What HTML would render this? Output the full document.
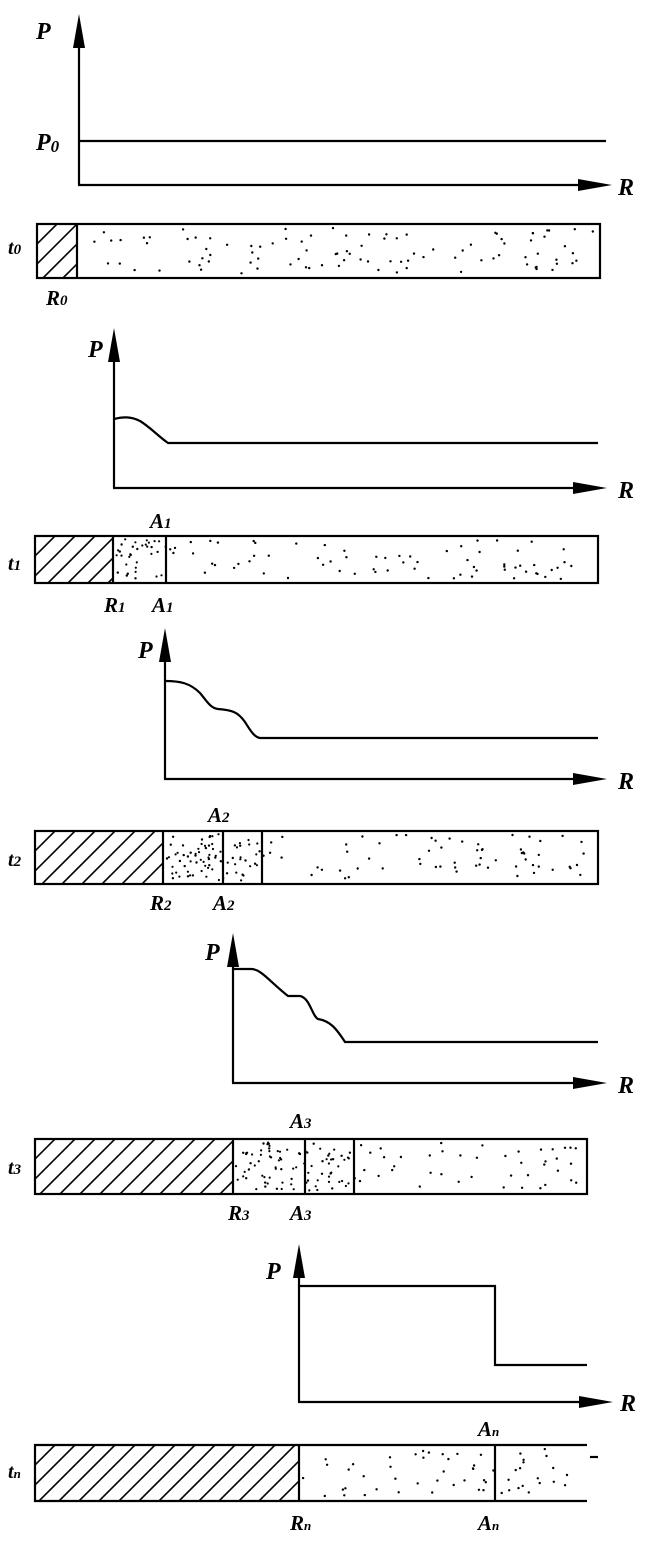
<!DOCTYPE html>
<html><head><meta charset="utf-8"><style>
html,body{margin:0;padding:0;background:#fff}
svg{display:block}
text{font-family:"Liberation Serif",serif;font-weight:bold;font-style:italic;fill:#000}
</style></head><body>
<svg id="s" width="666" height="1541" viewBox="0 0 666 1541" xmlns="http://www.w3.org/2000/svg">
<g stroke="#000" stroke-width="2.2" fill="none" id="g">
<line x1="79" y1="40" x2="79" y2="185"/><line x1="78" y1="185" x2="590" y2="185"/>
<line x1="79" y1="141" x2="606" y2="141"/>
<line x1="114" y1="352" x2="114" y2="488"/><line x1="113" y1="488" x2="585" y2="488"/>
<path d="M114 419 C122 417 130 416 140 421 C150 427 158 436 168 443 L598 443"/>
<line x1="165" y1="652" x2="165" y2="779"/><line x1="164" y1="779" x2="585" y2="779"/>
<path d="M165 681 C180 681 190 683 200 693 C206 700 210 708 218 709 C232 710 238 712 245 722 C250 730 254 737 260 738 L598 738"/>
<line x1="233" y1="957" x2="233" y2="1083"/><line x1="232" y1="1083" x2="585" y2="1083"/>
<path d="M233 969 L252 969 C262 970 270 982 288 996 L300 996 C310 998 312 1016 318 1019 C330 1021 336 1028 345 1042 L598 1042"/>
<line x1="299" y1="1268" x2="299" y2="1402"/><line x1="298" y1="1402" x2="585" y2="1402"/>
<path d="M299 1286 L495 1286 L495 1365 L587 1365"/>
<line x1="590" y1="1457" x2="598" y2="1457"/>
</g>
<g id="bars"></g>
<g fill="#000">
<polygon points="79,14 73,48 85,48"/><polygon points="612,185 578,179 578,191"/>
<polygon points="114,328 108,362 120,362"/><polygon points="607,488 573,482 573,494"/>
<polygon points="165,628 159,662 171,662"/><polygon points="607,779 573,773 573,785"/>
<polygon points="233,933 227,967 239,967"/><polygon points="607,1083 573,1077 573,1089"/>
<polygon points="299,1244 293,1278 305,1278"/><polygon points="613,1402 579,1396 579,1408"/>
</g>
<g font-size="24">
<text x="36" y="39">P</text><text x="36" y="150">P<tspan font-size="17" dy="2">0</tspan></text>
<text x="618" y="195">R</text>
<text x="8" y="254" font-size="20">t<tspan font-size="15">0</tspan></text>
<text x="46" y="305" font-size="21">R<tspan font-size="15">0</tspan></text>

<text x="88" y="357">P</text><text x="618" y="498">R</text>
<text x="150" y="528" font-size="21">A<tspan font-size="15">1</tspan></text>
<text x="8" y="570" font-size="20">t<tspan font-size="15">1</tspan></text>
<text x="104" y="612" font-size="21">R<tspan font-size="15">1</tspan></text>
<text x="152" y="612" font-size="21">A<tspan font-size="15">1</tspan></text>

<text x="138" y="658">P</text><text x="618" y="789">R</text>
<text x="208" y="822" font-size="21">A<tspan font-size="15">2</tspan></text>
<text x="8" y="866" font-size="20">t<tspan font-size="15">2</tspan></text>
<text x="150" y="910" font-size="21">R<tspan font-size="15">2</tspan></text>
<text x="213" y="910" font-size="21">A<tspan font-size="15">2</tspan></text>

<text x="205" y="960">P</text><text x="618" y="1093">R</text>
<text x="290" y="1128" font-size="21">A<tspan font-size="15">3</tspan></text>
<text x="8" y="1174" font-size="20">t<tspan font-size="15">3</tspan></text>
<text x="228" y="1220" font-size="21">R<tspan font-size="15">3</tspan></text>
<text x="290" y="1220" font-size="21">A<tspan font-size="15">3</tspan></text>

<text x="266" y="1279">P</text><text x="620" y="1411">R</text>
<text x="478" y="1436" font-size="21">A<tspan font-size="13">n</tspan></text>
<text x="8" y="1478" font-size="20">t<tspan font-size="13">n</tspan></text>
<text x="290" y="1530" font-size="21">R<tspan font-size="13">n</tspan></text>
<text x="478" y="1530" font-size="21">A<tspan font-size="13">n</tspan></text>
</g>
</svg>
<script>
(function(){
var NS="http://www.w3.org/2000/svg",b=document.getElementById("bars");
var seed=7;function r(){seed=(seed*16807)%2147483647;return seed/2147483647;}
function el(n,a){var e=document.createElementNS(NS,n);for(var k in a)e.setAttribute(k,a[k]);b.appendChild(e);return e;}
var bars=[
 {y:224,h:54,x0:37,x1:600,hx:77,div:[],dense:[],open:false},
 {y:536,h:47,x0:35,x1:598,hx:113,div:[166],dense:[[113,166]],open:false},
 {y:831,h:53,x0:35,x1:598,hx:163,div:[223,262],dense:[[163,262]],open:false},
 {y:1139,h:55,x0:35,x1:587,hx:233,div:[305,354],dense:[[233,354]],open:false},
 {y:1445,h:56,x0:35,x1:587,hx:299,div:[495],dense:[],open:true}
];
bars.forEach(function(B,i){
 var cid="c"+i;
 var cp=document.createElementNS(NS,"clipPath");cp.setAttribute("id",cid);
 var rr=document.createElementNS(NS,"rect");rr.setAttribute("x",B.x0);rr.setAttribute("y",B.y);rr.setAttribute("width",B.hx-B.x0);rr.setAttribute("height",B.h);
 cp.appendChild(rr);b.appendChild(cp);
 var g=el("g",{"clip-path":"url(#"+cid+")",stroke:"#000","stroke-width":"1.6"});
 for(var x=B.x0-B.h;x<B.hx+B.h;x+=20){var l=document.createElementNS(NS,"line");
  l.setAttribute("x1",x);l.setAttribute("y1",B.y+B.h);l.setAttribute("x2",x+B.h);l.setAttribute("y2",B.y);g.appendChild(l);}
 var area=(B.x1-B.hx)*B.h;
 for(var k=0;k<area/200;k++){var x=B.hx+4+r()*(B.x1-B.hx-8),y=B.y+4+r()*(B.h-8);
  var dense=B.dense.some(function(d){return x>d[0]&&x<d[1];});
  if(!dense&&r()<0.3)continue;
  el("circle",{cx:x.toFixed(1),cy:y.toFixed(1),r:"1.2",fill:"#000"});}
 B.dense.forEach(function(d){for(var k=0;k<(d[1]-d[0])*B.h/110;k++){
  el("circle",{cx:(d[0]+3+r()*(d[1]-d[0]-6)).toFixed(1),cy:(B.y+3+r()*(B.h-6)).toFixed(1),r:"1.1",fill:"#000"});}});
 if(B.open){
  el("path",{d:"M"+B.x1+" "+B.y+" H"+B.x0+" V"+(B.y+B.h)+" H"+B.x1,fill:"none",stroke:"#000","stroke-width":"2.2"});
 } else {
  el("rect",{x:B.x0,y:B.y,width:B.x1-B.x0,height:B.h,fill:"none",stroke:"#000","stroke-width":"2.2"});
 }
 el("line",{x1:B.hx,y1:B.y,x2:B.hx,y2:B.y+B.h,stroke:"#000","stroke-width":"2.2"});
 B.div.forEach(function(d){el("line",{x1:d,y1:B.y,x2:d,y2:B.y+B.h,stroke:"#000","stroke-width":"2.2"});});
});
})();
</script>
</body></html>
